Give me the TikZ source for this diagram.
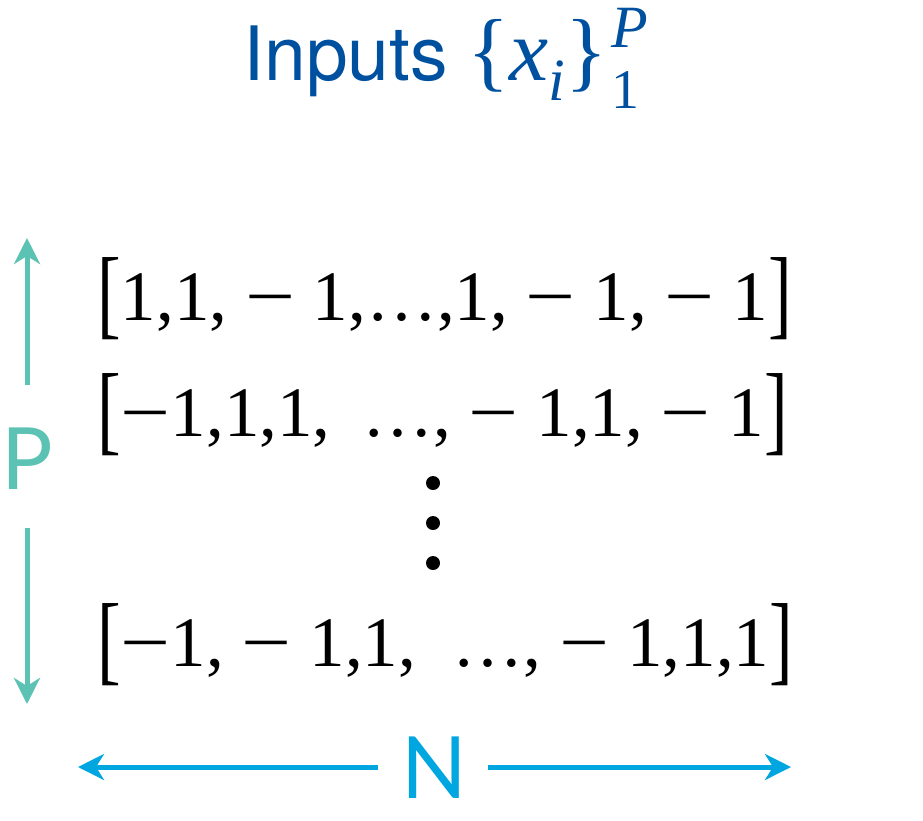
\documentclass[tikz,border=0pt]{standalone}
\usepackage{fontspec}
\usepackage{graphicx}
\usetikzlibrary{arrows.meta}
\newfontfamily\rowfont{Liberation Serif}
\newfontfamily\helvfont{TeX Gyre Heros}
\newfontfamily\geofont{Lato}
\definecolor{titleblue}{RGB}{0,80,160}
\definecolor{pteal}{RGB}{91,194,180}
\definecolor{nblue}{RGB}{0,166,223}
\newcommand{\lbr}{\raisebox{-6pt}{\scalebox{1}[1.4]{[}}}
\newcommand{\rbr}{\raisebox{-6pt}{\scalebox{1}[1.4]{]}}}
\newcommand{\mns}{\scalebox{1.25}[1]{\char"2212\relax}}
\tikzset{
  rowtext/.style={anchor=base west, inner sep=0pt, font=\rowfont\fontsize{71}{71}\selectfont},
  dimlabel/.style={inner sep=0pt, font=\geofont\fontsize{86}{86}\selectfont},
  parrow/.style={draw=pteal, line width=5pt, -{Stealth[length=26pt,width=26pt,inset=8pt]}},
  narrow/.style={draw=nblue, line width=5pt, -{Stealth[length=26pt,width=26pt,inset=8pt]}},
  dotstyle/.style={circle, fill=black, inner sep=0pt, minimum size=14pt}
}
\begin{document}
\begin{tikzpicture}[x=1pt,y=-1pt]
\useasboundingbox (0,0) rectangle (923,820);
% title
\node[anchor=base west, inner sep=0pt, text=titleblue, font=\helvfont\fontsize{75}{75}\selectfont] (inputs) at (243,80) {Inputs};
\node[anchor=base west, inner sep=0pt, text=titleblue, font=\rowfont\fontsize{88}{88}\selectfont] (set) at (467,80)
  {\{\textit{x}\raisebox{-20pt}{\fontsize{60}{60}\selectfont\textit{i}}\}\hspace{4pt}\rlap{\raisebox{33pt}{\fontsize{60}{60}\selectfont\textit{P}}}\raisebox{-28pt}{\fontsize{56}{56}\selectfont 1}};
% rows
\node[rowtext] (row1) at (97,320) {\lbr 1,1, \mns{} 1,\ldots,1, \mns{} 1, \mns{} 1\rbr};
\node[rowtext] (row2) at (97,436) {\lbr\mns 1,1,1, \hspace{14pt}\ldots, \mns{} 1,1, \mns{} 1\rbr};
\node[rowtext] (row3) at (97,666) {\lbr\mns 1, \mns{} 1,1, \hspace{19pt}\ldots, \mns{} 1,1,1\rbr};
\node[dotstyle] (d1) at (433,483) {};
\node[dotstyle] (d2) at (433,523) {};
\node[dotstyle] (d3) at (433,563) {};
% P dimension
\node[dimlabel, text=pteal] (P) at (27,459) {P};
\coordinate (ptop) at (27,238);
\coordinate (pbot) at (27,704);
\draw[parrow] (27,385) -- (ptop);
\draw[parrow] (27,528) -- (pbot);
% N dimension
\node[dimlabel, text=nblue] (N) at (434,768) {N};
\coordinate (nleft) at (78,767);
\coordinate (nright) at (791,767);
\draw[narrow] (378,767) -- (nleft);
\draw[narrow] (488,767) -- (nright);
\end{tikzpicture}
\end{document}
